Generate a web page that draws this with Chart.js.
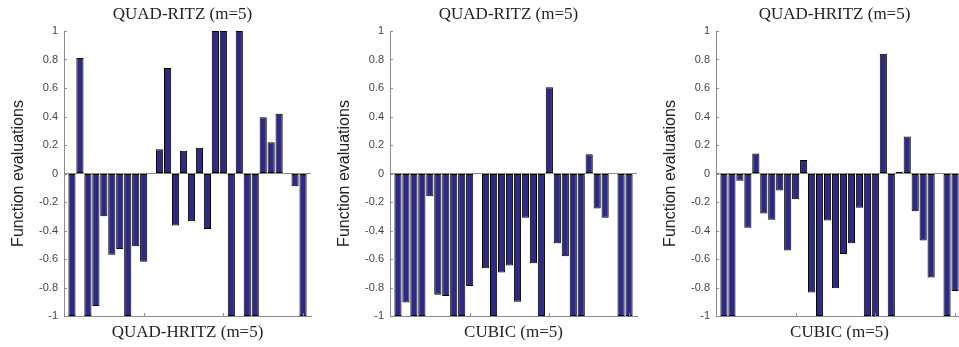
<!DOCTYPE html>
<html lang="en">
<head>
  <meta charset="UTF-8" />
  <title>Function evaluations – QUAD-RITZ / QUAD-HRITZ / CUBIC</title>
  <script src="https://cdn.jsdelivr.net/npm/chart.js"></script>
  <style>
    html, body {
      margin: 0;
      padding: 0;
      background: white;
    }
    body {
      width: 959px;
      height: 347px;
      overflow: hidden;
      position: relative;
    }
    .panel {
      position: absolute;
      top: 0;
      width: 326px;
      height: 347px;
    }
  </style>
</head>
<body>

  <div class="panel" style="left:0px;"><canvas id="chart1" width="326" height="347"></canvas></div>
  <div class="panel" style="left:326px;"><canvas id="chart2" width="326" height="347"></canvas></div>
  <div class="panel" style="left:652px;"><canvas id="chart3" width="326" height="347"></canvas></div>

  <script>
    // problem index (x axis)
    const problems = [1, 2, 3, 4, 5, 6, 7, 8, 9, 10, 11, 12, 13, 14, 15,
                      16, 17, 18, 19, 20, 21, 22, 23, 24, 25, 26, 27, 28, 29, 30];

    // QUAD-RITZ vs QUAD-HRITZ
    const ritzVsHritz = [-1, 0.81, -1, -0.93, -0.30, -0.57, -0.53, -1, -0.51, -0.62,
                         0, 0.17, 0.74, -0.365, 0.16, -0.335, 0.18, -0.39, 1, 1,
                         -1, 1, -1, -1, 0.395, 0.22, 0.42, 0, -0.09, -1];

    // QUAD-RITZ vs CUBIC
    const ritzVsCubic = [-1, -0.905, -1, -1, -0.16, -0.85, -0.86, -1, -1, -0.79,
                         0, -0.665, -1, -0.695, -0.645, -0.90, -0.31, -0.63, -1, 0.605,
                         -0.49, -0.58, -1, -1, 0.135, -0.245, -0.31, 0, -1, -1];

    // QUAD-HRITZ vs CUBIC
    const hritzVsCubic = [-1, -1, -0.05, -0.38, 0.14, -0.28, -0.325, -0.12, -0.54, -0.18,
                          0.095, -0.835, -1, -0.33, -0.805, -0.565, -0.49, -0.24, -1, -1,
                          0.84, -1, 0.01, 0.26, -0.265, -0.47, -0.73, 0, -1, -0.825];

    const yTicks = [-1, -0.8, -0.6, -0.4, -0.2, 0, 0.2, 0.4, 0.6, 0.8, 1];
    const xTicks = [0, 10, 20, 30];

    const axisGray = '#8c8c8c';
    const serifFont = '"Liberation Serif", serif';

    // MATLAB style ticks pointing into the plot
    const inwardTicks = {
      id: 'inwardTicks',
      afterDatasetsDraw(chart) {
        const { ctx, chartArea, scales } = chart;
        ctx.save();
        ctx.strokeStyle = axisGray;
        ctx.lineWidth = 1;
        ctx.beginPath();
        yTicks.forEach(v => {
          const y = Math.round(scales.y.getPixelForValue(v)) + 0.5;
          ctx.moveTo(chartArea.left, y);
          ctx.lineTo(chartArea.left + 3, y);
        });
        xTicks.forEach(v => {
          const x = Math.round(scales.x.getPixelForValue(v)) + 0.5;
          ctx.moveTo(x, chartArea.bottom);
          ctx.lineTo(x, chartArea.bottom - 3);
        });
        ctx.stroke();
        ctx.restore();
      }
    };

    // title centred over the plot area (not the whole canvas)
    const axesTitle = {
      id: 'axesTitle',
      afterDraw(chart, args, opts) {
        const { ctx, chartArea } = chart;
        ctx.save();
        ctx.fillStyle = '#222';
        ctx.font = '17px ' + serifFont;
        ctx.textAlign = 'center';
        ctx.textBaseline = 'middle';
        ctx.fillText(opts.text, (chartArea.left + chartArea.right) / 2 - 5, 15);
        ctx.restore();
      }
    };

    function makePanel(id, values, title, xTitle) {
      const points = problems.map((p, i) => ({ x: p, y: values[i] }));
      return new Chart(document.getElementById(id), {
        type: 'bar',
        data: {
          datasets: [{
            data: points,
            backgroundColor: '#2d2987',
            borderColor: '#000000',
            borderWidth: 1,
            borderSkipped: false,
            barPercentage: 0.9,
            categoryPercentage: 1
          }]
        },
        options: {
          responsive: false,
          animation: false,
          layout: { padding: { left: 0, right: 15, top: 31, bottom: 0 } },
          plugins: {
            legend: { display: false },
            tooltip: { enabled: false },
            title: { display: false },
            axesTitle: { text: title }
          },
          scales: {
            x: {
              type: 'linear',
              min: 0,
              max: 31,
              offset: false,
              ticks: { display: false, stepSize: 10 },
              grid: { display: false, drawTicks: false },
              border: { display: true, color: axisGray, width: 1 },
              title: {
                display: true,
                text: xTitle,
                color: '#222',
                font: { family: serifFont, size: 17, weight: 'normal' },
                padding: { top: 0, bottom: 4 }
              },
              afterFit(scale) { scale.height = 31; }
            },
            y: {
              min: -1,
              max: 1,
              afterBuildTicks(scale) { scale.ticks = yTicks.map(v => ({ value: v })); },
              ticks: {
                color: '#444',
                padding: 6,
                font: { family: '"Liberation Sans", Arial, sans-serif', size: 11 },
                callback: v => String(Math.round(v * 10) / 10)
              },
              grid: {
                drawTicks: false,
                color: ctx => (ctx.tick && ctx.tick.value === 0) ? axisGray : 'rgba(0,0,0,0)'
              },
              border: { display: true, color: axisGray, width: 1 },
              title: {
                display: true,
                text: 'Function evaluations',
                color: '#222',
                font: { family: '"Liberation Sans", Arial, sans-serif', size: 16 },
                padding: { top: 9, bottom: 0 }
              },
              afterFit(scale) { scale.width = 64; }
            }
          }
        },
        plugins: [inwardTicks, axesTitle]
      });
    }

    makePanel('chart1', ritzVsHritz, 'QUAD-RITZ (m=5)', 'QUAD-HRITZ (m=5)');
    makePanel('chart2', ritzVsCubic, 'QUAD-RITZ (m=5)', 'CUBIC (m=5)');
    makePanel('chart3', hritzVsCubic, 'QUAD-HRITZ (m=5)', 'CUBIC (m=5)');
  </script>

</body>
</html>
